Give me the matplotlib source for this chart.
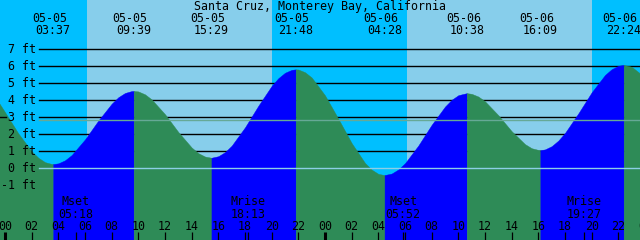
import matplotlib
matplotlib.use("Agg")
import matplotlib.pyplot as plt
import matplotlib.transforms as mtransforms
import numpy as np

# --- data ---
title = "Santa Cruz, Monterey Bay, California"

# tide extremes (labels along the top)
tide_dates = ["05-05", "05-05", "05-05", "05-05", "05-06", "05-06", "05-06", "05-06"]
tide_times = ["03:37", "09:39", "15:29", "21:48", "04:28", "10:38", "16:09", "22:24"]

# water level, hours after 05-05 00:00 -> feet
tide_hours = [-1, -0.5, 0, 1, 2, 2.5, 3, 3.5, 3.617, 4, 4.5, 5, 6, 7, 8, 8.5, 9, 9.5, 9.65,
              10, 10.5, 11, 12, 13, 14, 14.5, 15, 15.483, 16, 16.5, 17, 18, 19, 20, 20.5,
              21, 21.5, 21.8, 22, 22.5, 23, 24, 25, 26, 27, 27.5, 28, 28.467, 29, 29.5, 30,
              31, 32, 33, 33.5, 34, 34.633, 35, 35.5, 36, 37, 38, 39, 39.5, 40, 40.15, 40.5,
              41, 41.5, 42, 43, 44, 45, 45.5, 46, 46.4, 47, 47.5, 48]
tide_ft = [4.46, 3.91, 3.30, 2.05, 1.00, 0.62, 0.36, 0.254, 0.25, 0.29, 0.47, 0.78, 1.70,
           2.81, 3.80, 4.18, 4.43, 4.543, 4.55, 4.52, 4.35, 4.05, 3.18, 2.13, 1.22, 0.89,
           0.69, 0.62, 0.71, 0.95, 1.33, 2.41, 3.68, 4.85, 5.30, 5.62, 5.79, 5.82, 5.81,
           5.65, 5.34, 4.29, 2.91, 1.48, 0.31, -0.08, -0.33, -0.40, -0.31, -0.07, 0.30,
           1.34, 2.56, 3.63, 4.03, 4.30, 4.42, 4.38, 4.22, 3.94, 3.12, 2.18, 1.42, 1.18,
           1.08, 1.07, 1.11, 1.30, 1.63, 2.08, 3.23, 4.47, 5.49, 5.83, 6.03, 6.08, 5.97,
           5.66, 5.35]
mean_level = 2.84

# moon events (labels along the bottom)
moon_names = ["Mset", "Mrise", "Mset", "Mrise"]
moon_dates = ["05-05", "05-05", "05-06", "05-06"]
moon_times = ["05:18", "18:13", "05:52", "19:27"]

# daylight spans (sunrise, sunset) in hours after 05-05 00:00
day_spans = [(6.13, 20.03), (30.12, 44.03)]

ft_levels = [7, 6, 5, 4, 3, 2, 1, 0, -1]
hour_ticks = list(range(0, 49, 2))

DAY = "#87CEEB"
NIGHT = "#00BFFF"
RISE = "#0000FF"
FALL = "#2E8B57"
FONT = "DejaVu Sans Mono"
FS = 8.4


def to_hours(date, hm):
    h, m = hm.split(":")
    return (int(date[3:]) - 5) * 24 + int(h) + int(m) / 60


W, H = 640, 240
fig = plt.figure(figsize=(6.4, 2.4), dpi=100)
ax = fig.add_axes([0, 0, 1, 1])
ax.set_axis_off()
x0, x1 = -0.375, 47.625
y0, y1 = -4.22, 9.9
ax.set_xlim(x0, x1)
ax.set_ylim(y0, y1)

# pixel-from-top -> axes fraction
def py(p):
    return 1 - p / H

blend = mtransforms.blended_transform_factory(ax.transData, ax.transAxes)

# sky: night background, day bands
ax.axvspan(x0, x1, color=NIGHT, lw=0, zorder=0)
for a, b in day_spans:
    ax.axvspan(a, b, color=DAY, lw=0, zorder=0.5)

# black foot lines (behind the water)
for lv in ft_levels:
    if lv > 0:
        ax.axhline(lv, xmin=39 / W, xmax=1, color="black", lw=1.0, zorder=1)
ax.axhline(3, xmin=0, xmax=6 / W, color="black", lw=1.0, zorder=5)

# water: blue while rising, green while falling
t = np.array(tide_hours)
h = np.array(tide_ft)
rising = np.diff(h) > 0
start = 0
for i in range(1, len(rising) + 1):
    if i == len(rising) or rising[i] != rising[start]:
        c = RISE if rising[start] else FALL
        ax.fill_between(t[start:i + 1], h[start:i + 1], y0, color=c, ec=c, lw=0.3, zorder=2)
        start = i

# datum and mean lines on top of the water
ax.axhline(0, xmin=39 / W, xmax=1, color="#8ccfe6", lw=1.0, zorder=3)
ax.axhline(mean_level, xmin=39 / W, xmax=1, color="#66a996", lw=1.0, zorder=3)

# foot labels
for lv in ft_levels:
    ax.text(36 / W, lv - 0.2, f"{lv} ft", transform=ax.get_yaxis_transform(),
            ha="right", va="baseline", family=FONT, fontsize=FS, zorder=6)

# title and tide event labels
fig.text(0.5, py(10), title, ha="center", va="baseline", family=FONT, fontsize=FS)
for d, tm in zip(tide_dates, tide_times):
    x = to_hours(d, tm)
    ax.text(x - 3.5 / 13.333, py(21.7), d, transform=blend, ha="center", va="baseline",
            family=FONT, fontsize=FS, zorder=6)
    ax.text(x, py(34), tm, transform=blend, ha="center", va="baseline",
            family=FONT, fontsize=FS, zorder=6)

# hour labels and ticks
for hr in hour_ticks:
    ax.text(hr, py(230), f"{hr % 24:02d}", transform=blend, ha="center", va="baseline",
            family=FONT, fontsize=FS, zorder=6)
    lw = 2.2 if hr % 24 == 0 else 0.9
    ax.plot([hr, hr], [py(232), py(240)], transform=blend, color="black", lw=lw,
            solid_capstyle="butt", zorder=6)

# moon events
for name, d, tm in zip(moon_names, moon_dates, moon_times):
    x = to_hours(d, tm)
    ax.text(x, py(205.3), name, transform=blend, ha="center", va="baseline",
            family=FONT, fontsize=FS, zorder=6)
    ax.text(x, py(218.3), tm, transform=blend, ha="center", va="baseline",
            family=FONT, fontsize=FS, zorder=6)
    ax.plot([x, x], [py(232), py(240)], transform=blend, color="black", lw=0.9,
            solid_capstyle="butt", zorder=6)

fig.savefig("out.png", dpi=100)
